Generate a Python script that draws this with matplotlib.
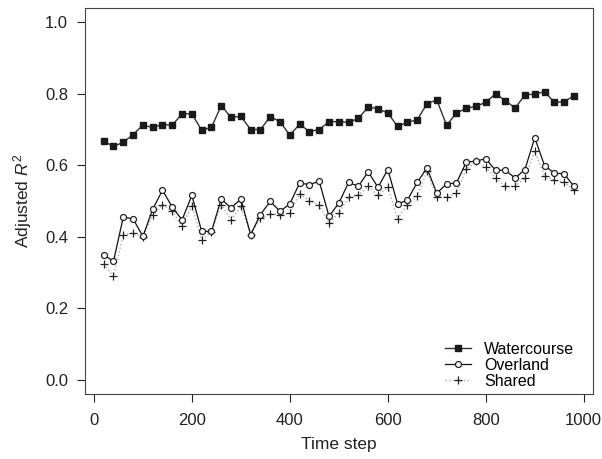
import matplotlib
matplotlib.use("Agg")
import matplotlib.pyplot as plt
import numpy as np

plt.rcParams['font.family'] = ['Liberation Sans', 'DejaVu Sans']
plt.rcParams['mathtext.fontset'] = 'custom'
plt.rcParams['mathtext.rm'] = 'Liberation Sans'
plt.rcParams['mathtext.it'] = 'Liberation Sans:italic'

time_step = list(range(20, 1000, 20))

watercourse = [0.667, 0.653, 0.664, 0.686, 0.712, 0.706, 0.714, 0.712, 0.744, 0.744,
               0.698, 0.706, 0.767, 0.734, 0.737, 0.700, 0.700, 0.736, 0.722, 0.684,
               0.715, 0.694, 0.700, 0.722, 0.722, 0.720, 0.731, 0.763, 0.758, 0.746,
               0.709, 0.720, 0.727, 0.772, 0.783, 0.712, 0.746, 0.759, 0.765, 0.776,
               0.800, 0.781, 0.760, 0.797, 0.799, 0.806, 0.776, 0.778, 0.794]

overland = [0.350, 0.331, 0.455, 0.450, 0.401, 0.477, 0.530, 0.483, 0.447, 0.516,
            0.415, 0.415, 0.506, 0.480, 0.506, 0.406, 0.462, 0.499, 0.471, 0.492,
            0.550, 0.546, 0.555, 0.457, 0.494, 0.552, 0.541, 0.582, 0.538, 0.588,
            0.492, 0.502, 0.552, 0.592, 0.522, 0.548, 0.550, 0.608, 0.612, 0.618,
            0.586, 0.586, 0.564, 0.588, 0.677, 0.599, 0.578, 0.576, 0.541]

shared = [0.324, 0.289, 0.406, 0.410, 0.399, 0.460, 0.490, 0.471, 0.429, 0.487,
          0.392, 0.413, 0.490, 0.448, 0.485, 0.406, 0.452, 0.464, 0.462, 0.466,
          0.520, 0.501, 0.488, 0.438, 0.466, 0.511, 0.517, 0.541, 0.516, 0.539,
          0.450, 0.490, 0.513, 0.583, 0.511, 0.511, 0.522, 0.589, 0.611, 0.595,
          0.564, 0.541, 0.541, 0.564, 0.639, 0.571, 0.558, 0.552, 0.532]

x_ticks = [0, 200, 400, 600, 800, 1000]
y_ticks = [0.0, 0.2, 0.4, 0.6, 0.8, 1.0]

fig = plt.figure(figsize=(6.02, 4.59), dpi=100)
ax = fig.add_axes([0.141, 0.1416, 0.9846 - 0.141, 0.9826 - 0.1416])

ax.plot(time_step, shared, linestyle=':', color='#aaaaaa', linewidth=1.0,
        marker='+', markersize=5.5, markeredgecolor='#222222', markeredgewidth=0.9,
        label='Shared', zorder=2)
ax.plot(time_step, overland, linestyle='-', color='#111111', linewidth=0.9,
        marker='o', markersize=4.3, markerfacecolor='white', markeredgecolor='#222222',
        markeredgewidth=0.9, label='Overland', zorder=3)
ax.plot(time_step, watercourse, linestyle='-', color='#333333', linewidth=1.0,
        marker='s', markersize=5.0, markerfacecolor='#1a1a1a', markeredgecolor='#1a1a1a',
        label='Watercourse', zorder=4)

ax.set_xlim(-18.4, 1018.4)
ax.set_ylim(-0.04, 1.04)
ax.set_xticks(x_ticks)
ax.set_yticks(y_ticks)
ax.set_yticklabels([f"{v:.1f}" for v in y_ticks])
ax.tick_params(axis='both', direction='out', length=6, width=0.8, labelsize=12,
               colors='#222222', labelcolor='#222222')
ax.tick_params(axis='x', pad=8)
ax.tick_params(axis='y', pad=6)
for s in ax.spines.values():
    s.set_linewidth(0.8)
    s.set_color('#444444')

ax.set_xlabel('Time step', fontsize=12.5, color='#222222', labelpad=6)
ax.set_ylabel('Adjusted $\\mathit{R}^2$', fontsize=12.5, color='#222222', labelpad=8)

handles, labels = ax.get_legend_handles_labels()
order = [2, 1, 0]
leg = ax.legend([handles[i] for i in order], [labels[i] for i in order],
                loc='lower right', frameon=False, fontsize=11.5,
                handlelength=1.6, handletextpad=0.8, labelspacing=0.05,
                borderaxespad=0.3, bbox_to_anchor=(0.985, -0.015))

fig.savefig('out.png', dpi=100)
